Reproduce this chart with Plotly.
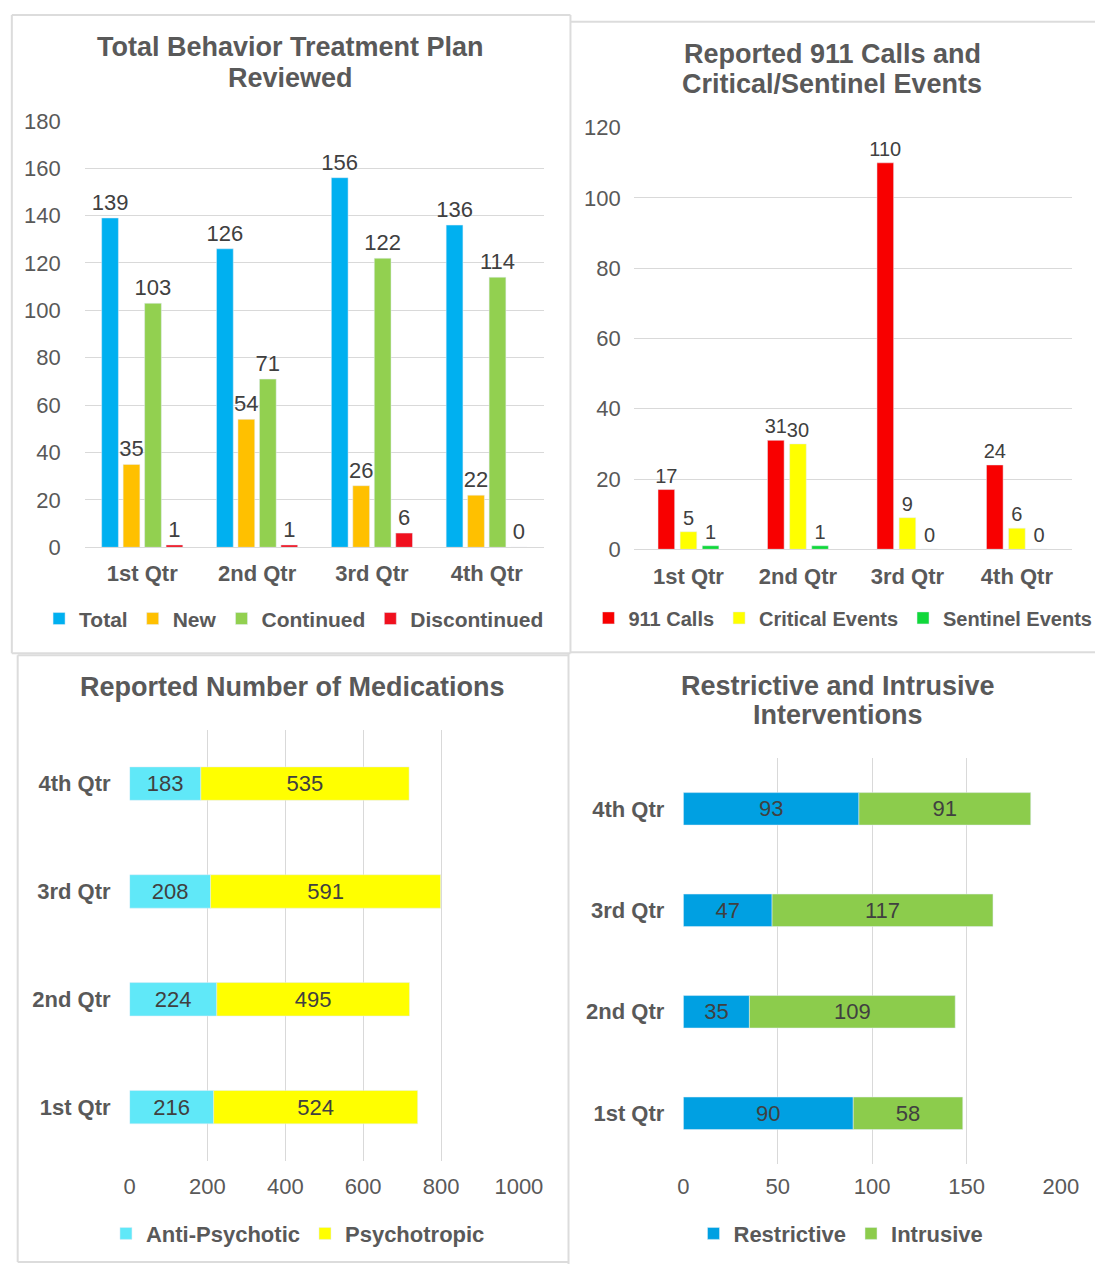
import plotly.graph_objects as go

# ---- data ----
quarters = ["1st Qtr", "2nd Qtr", "3rd Qtr", "4th Qtr"]

btp_total = [139, 126, 156, 136]
btp_new = [35, 54, 26, 22]
btp_continued = [103, 71, 122, 114]
btp_discontinued = [1, 1, 6, 0]

calls_911 = [17, 31, 110, 24]
critical_events = [5, 30, 9, 6]
sentinel_events = [1, 1, 0, 0]

anti_psychotic = [216, 224, 208, 183]
psychotropic = [524, 495, 591, 535]

restrictive = [90, 35, 47, 93]
intrusive = [58, 109, 117, 91]

# ---- page geometry (pixels) ----
W, H = 1119, 1277
FONT = "Liberation Sans, Arial, sans-serif"
TITLE_C = "#595959"
TICK_C = "#595959"
LABEL_C = "#404040"
GRID_C = "#D9D9D9"


def px(x):
    return x / W


def py(y):
    return 1 - y / H


fig = go.Figure()


def grouped(values, names, colors, xa, ya, legend, step, width, fsize):
    """Side-by-side vertical bars, one slot per series inside each quarter."""
    n = len(values)
    for i, (vals, name, col) in enumerate(zip(values, names, colors)):
        center = (i - (n - 1) / 2) * step
        fig.add_trace(go.Bar(
            x=quarters, y=vals, name=name, marker_color=col,
            offset=center - width / 2, width=width,
            text=[str(v) for v in vals], textposition="outside", textangle=0,
            textfont=dict(family=FONT, size=fsize, color=LABEL_C),
            constraintext="none", cliponaxis=False,
            xaxis=xa, yaxis=ya, legend=legend,
        ))


def stacked(values, names, colors, xa, ya, legend, width):
    """Horizontal bars stacked end to end, each segment labelled in its middle."""
    base = [0] * len(quarters)
    for vals, name, col in zip(values, names, colors):
        fig.add_trace(go.Bar(
            y=quarters, x=vals, base=list(base), name=name, orientation="h",
            marker_color=col, offset=-width / 2, width=width,
            text=[str(v) for v in vals], textposition="inside",
            insidetextanchor="middle", textangle=0,
            textfont=dict(family=FONT, size=22, color=LABEL_C),
            constraintext="none",
            xaxis=xa, yaxis=ya, legend=legend,
        ))
        base = [b + v for b, v in zip(base, vals)]


grouped([btp_total, btp_new, btp_continued, btp_discontinued],
        ["Total", "New", "Continued", "Discontinued"],
        ["#00B0F0", "#FFC000", "#92D050", "#F0101E"],
        "x", "y", "legend", step=0.187, width=0.146, fsize=22)

grouped([calls_911, critical_events, sentinel_events],
        ["911 Calls", "Critical Events", "Sentinel Events"],
        ["#F80000", "#FFFF00", "#10D83A"],
        "x2", "y2", "legend2", step=0.202, width=0.152, fsize=20)

stacked([anti_psychotic, psychotropic], ["Anti-Psychotic", "Psychotropic"],
        ["#60E8F8", "#FFFF00"], "x3", "y3", "legend3", width=0.31)

stacked([restrictive, intrusive], ["Restrictive", "Intrusive"],
        ["#00A0E2", "#8CCC4C"], "x4", "y4", "legend4", width=0.32)

tick_font = dict(family=FONT, size=22, color=TICK_C)
cat_font = dict(family=FONT, size=22, color=TICK_C, weight="bold")

val_axis = dict(showgrid=True, gridcolor=GRID_C, gridwidth=1, zeroline=False,
                showline=False, ticks="", tickfont=tick_font, fixedrange=True)
cat_axis = dict(showgrid=False, zeroline=False, ticks="", tickfont=cat_font,
                fixedrange=True, type="category")

fig.update_layout(
    width=W, height=H, margin=dict(l=0, r=0, t=0, b=0),
    paper_bgcolor="white", plot_bgcolor="white",
    font=dict(family=FONT, color=TICK_C),
    barmode="group",
    # top-left: vertical grouped bars
    xaxis=dict(cat_axis, domain=[px(81), px(553)], anchor="y",
               showline=True, linecolor=GRID_C, linewidth=1,
               ticklabelstandoff=6),
    yaxis=dict(val_axis, domain=[py(546), py(111)], anchor="x",
               range=[0, 180], dtick=20, ticklabelstandoff=23),
    # top-right: vertical grouped bars
    xaxis2=dict(cat_axis, domain=[px(645), px(1095)], anchor="y2",
                showline=True, linecolor=GRID_C, linewidth=1,
                ticklabelstandoff=7),
    yaxis2=dict(val_axis, domain=[py(548), py(118)], anchor="x2",
                range=[0, 120], dtick=20, ticklabelstandoff=12),
    # bottom-left: horizontal stacked bars
    xaxis3=dict(val_axis, domain=[px(127), px(527)], anchor="y3",
                range=[0, 1000], dtick=200, ticklabelstandoff=10),
    yaxis3=dict(cat_axis, domain=[py(1172), py(732)], anchor="x3",
                ticklabelstandoff=18),
    # bottom-right: horizontal stacked bars
    xaxis4=dict(val_axis, domain=[px(696), px(1084)], anchor="y4",
                range=[0, 200], dtick=50, ticklabelstandoff=7),
    yaxis4=dict(cat_axis, domain=[py(1175), py(761)], anchor="x4",
                ticklabelstandoff=18),
)

leg = dict(orientation="h", xanchor="center", yanchor="middle",
           traceorder="normal",
           bgcolor="rgba(0,0,0,0)", itemclick=False, itemdoubleclick=False,
           tracegroupgap=0)
leg_font = dict(family=FONT, size=22, color=TICK_C, weight="bold")
fig.update_layout(
    legend=dict(leg, x=px(296), y=py(619), font=dict(leg_font, size=21)),
    legend2=dict(leg, x=px(860), y=py(618), font=dict(leg_font, size=20)),
    legend3=dict(leg, x=px(300), y=py(1246), font=leg_font),
    legend4=dict(leg, x=px(858), y=py(1246), font=leg_font),
)

# chart titles, one annotation per line
title_lines = [
    ("Total Behavior Treatment Plan", 292, 36),
    ("Reviewed", 292, 67),
    ("Reported 911 Calls and", 849, 43),
    ("Critical/Sentinel Events", 849, 73),
    ("Reported Number of Medications", 294, 688),
    ("Restrictive and Intrusive", 855, 687),
    ("Interventions", 855, 717),
]
for text, x, y in title_lines:
    fig.add_annotation(text=text, x=px(x), y=py(y), xref="paper", yref="paper",
                       xanchor="center", yanchor="middle", showarrow=False,
                       font=dict(family=FONT, size=27, color=TITLE_C,
                                 weight="bold"))

# panel frames
frame = dict(type="line", xref="paper", yref="paper",
             line=dict(color="#DCDCDC", width=2), layer="below")
segments = [
    (6, 3, 580, 3), (6, 3, 6, 654), (6, 654, 580, 654), (580, 3, 580, 654),
    (580, 10, 1119, 10), (580, 653, 1119, 653),
    (12, 656, 578, 656), (12, 656, 12, 1275), (12, 1275, 578, 1275),
    (578, 654, 578, 1277),
]
for x0, y0, x1, y1 in segments:
    fig.add_shape(frame, x0=px(x0), y0=py(y0), x1=px(x1), y1=py(y1))

fig.write_html("out.html")
